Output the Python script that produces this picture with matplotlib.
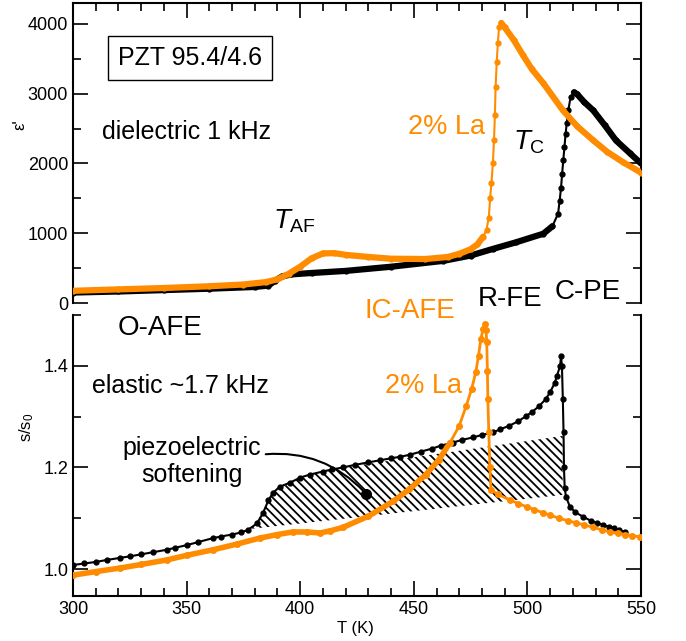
import matplotlib
matplotlib.use("Agg")
import matplotlib.pyplot as plt
import numpy as np

plt.rcParams["font.family"] = ["Liberation Sans", "DejaVu Sans"]
plt.rcParams["mathtext.fontset"] = "custom"
plt.rcParams["mathtext.rm"] = "Liberation Sans"
plt.rcParams["mathtext.it"] = "Liberation Sans:italic"
plt.rcParams["hatch.linewidth"] = 1.3
plt.rcParams["lines.solid_joinstyle"] = "round"
plt.rcParams["lines.solid_capstyle"] = "round"

ORANGE = "#ff8c00"

# dielectric permittivity, pure PZT 95.4/4.6
diel_T = np.array([300, 320, 340, 360, 380, 386, 389, 392, 396, 405, 420, 440, 463, 475,
                   485, 495, 507, 511, 513.5, 514.2, 514.8, 515.3, 515.8, 516.3, 516.8,
                   517.3, 518, 519, 520.5, 522, 525, 529, 534, 539, 545, 550])
diel_eps = np.array([150, 165, 185, 205, 230, 250, 320, 380, 410, 430, 460, 520, 604, 680,
                     777, 870, 993, 1100, 1280, 1468, 1650, 1856, 2050, 2230, 2420,
                     2575, 2760, 2950, 3020, 2990, 2880, 2760, 2550, 2330, 2150, 2000])

# dielectric permittivity, 2% La
diel_La_T = np.array([300, 320, 340, 360, 375, 385, 390, 395, 400, 405, 410, 415, 420, 430,
                      440, 455, 465, 470, 475, 478, 480.5, 482, 483, 483.6, 484.2, 484.8,
                      485.3, 485.7, 486, 486.5, 487, 487.5, 488.5, 490, 494, 498, 502, 507,
                      515.6, 522, 529, 535, 542, 550])
diel_La_eps = np.array([175, 195, 215, 240, 265, 300, 340, 420, 520, 640, 710, 715, 690, 660,
                        635, 630, 660, 705, 770, 840, 950, 1050, 1223, 1500, 1727, 2000,
                        2331, 2700, 3094, 3450, 3727, 3950, 4014, 3950, 3770, 3554, 3350, 3151,
                        2763, 2530, 2331, 2170, 2020, 1870])

# elastic compliance s/s0, pure
el_T = np.array([300, 305, 310, 315, 320.7, 325, 330, 335, 341.3, 345, 350, 355, 361.7, 365,
                 370, 374, 377, 381, 383.6, 386, 388, 391, 395.5, 400, 404.3, 410, 414,
                 418.8, 424, 430, 435, 440, 444, 448.3, 453, 458, 462, 467.3, 471, 476,
                 480, 484.9, 488, 492, 496, 499.4, 502, 505, 508, 510, 512, 513, 514.4,
                 514.8, 515.2, 515.6, 515.9, 516.1, 516.4, 517, 518.7, 521, 524.5, 528,
                 530.5, 533.3, 536, 538, 540.5, 543])
el_s = np.array([1.008, 1.011, 1.014, 1.018, 1.022, 1.025, 1.029, 1.033, 1.038, 1.042, 1.047,
                 1.053, 1.061, 1.064, 1.068, 1.072, 1.077, 1.090, 1.11, 1.135, 1.150, 1.162,
                 1.170, 1.180, 1.186, 1.192, 1.196, 1.200, 1.205, 1.210, 1.214, 1.218,
                 1.221, 1.225, 1.231, 1.237, 1.243, 1.249, 1.254, 1.259, 1.264, 1.269,
                 1.275, 1.282, 1.291, 1.301, 1.309, 1.32, 1.334, 1.348, 1.366, 1.38, 1.40,
                 1.419, 1.40, 1.334, 1.27, 1.20, 1.16, 1.142, 1.123, 1.112, 1.103, 1.095,
                 1.091, 1.087, 1.083, 1.080, 1.076, 1.073])

# elastic compliance s/s0, 2% La
el_La_T = np.array([300, 310, 320.7, 330, 341.3, 350, 361.7, 372, 382.3, 390, 396.8, 403,
                    408.7, 413, 418.8, 430, 440.8, 448, 455.3, 461, 466, 470, 473, 475.5,
                    477.3, 478.5, 479.5, 480.5, 481.3, 481.8, 482.1, 482.4, 482.6, 483,
                    483.5, 484, 487, 492.3, 496, 500, 503, 506.8, 510, 514, 518, 521.4, 525,
                    529, 533, 536.3, 540, 543, 546, 549.6])
el_La_s = np.array([0.988, 0.995, 1.002, 1.009, 1.018, 1.027, 1.038, 1.049, 1.061, 1.068,
                    1.073, 1.073, 1.071, 1.075, 1.082, 1.104, 1.133, 1.157, 1.186, 1.215,
                    1.249, 1.282, 1.32, 1.355, 1.388, 1.42, 1.453, 1.472, 1.483, 1.47,
                    1.447, 1.39, 1.334, 1.27, 1.20, 1.156, 1.147, 1.136, 1.129, 1.122,
                    1.117, 1.111, 1.106, 1.10, 1.095, 1.091, 1.087, 1.082, 1.077, 1.073,
                    1.070, 1.068, 1.066, 1.063])

# piezoelectric softening region (outline)
soft_T = [378, 383.6, 388, 395.5, 404.3, 418.8, 515.5, 515.5]
soft_s = [1.079, 1.11, 1.15, 1.17, 1.186, 1.200, 1.262, 1.146]


def style_axis(ax, top_ticks):
    ax.tick_params(which="both", direction="in", right=True, top=top_ticks,
                   labelsize=13, width=1.2)
    ax.tick_params(which="major", length=11)
    ax.tick_params(which="minor", length=5.5)
    for sp in ax.spines.values():
        sp.set_linewidth(1.5)
    ax.set_xlim(300, 550)
    ax.set_xticks(np.arange(300, 551, 50))
    ax.set_xticks(np.arange(300, 551, 10), minor=True)


fig = plt.figure(figsize=(6.86, 6.41), dpi=100)
ax1 = fig.add_axes([0.1064, 0.5273, 0.828, 0.468])
ax2 = fig.add_axes([0.1064, 0.0702, 0.828, 0.4384])

# ---- dielectric panel ----
style_axis(ax1, True)
ax1.tick_params(axis="x", which="both", bottom=False, labelbottom=False)
ax1.spines["bottom"].set_visible(False)
ax1.set_ylim(0, 4300)
ax1.set_yticks(np.arange(0, 4001, 1000))
ax1.set_yticks(np.arange(0, 4001, 500), minor=True)

steep = (diel_T > 511) & (diel_T < 519.5)
ax1.plot(diel_T, diel_eps, color="black", lw=1.5, marker="o", ms=3.5, zorder=3)
ax1.plot(np.where(steep, np.nan, diel_T), diel_eps, color="black", lw=4.5, zorder=3)
steep_La = (diel_La_T > 481) & (diel_La_T < 488)
ax1.plot(diel_La_T, diel_La_eps, color=ORANGE, lw=1.5, marker="o", ms=3.5, zorder=4)
ax1.plot(np.where(steep_La, np.nan, diel_La_T), diel_La_eps, color=ORANGE, lw=4.5,
         zorder=4)

ax1.text(351.5, 3510, "PZT 95.4/4.6", fontsize=18, ha="center", va="center",
         bbox=dict(boxstyle="square,pad=0.4", fc="white", ec="black", lw=1))
ax1.text(312.8, 2446, "dielectric 1 kHz", fontsize=18, ha="left", va="center")
ax1.text(388, 1165, r"$T_{\rm AF}$", fontsize=20, ha="left", va="center")
ax1.text(447.4, 2518, "2% La", fontsize=19.5, color=ORANGE, ha="left", va="center")
ax1.text(493.7, 2302, r"$T_{\rm C}$", fontsize=20, ha="left", va="center")

# ---- elastic panel ----
style_axis(ax2, False)
ax2.spines["top"].set_visible(False)
ax2.set_ylim(0.947, 1.5)
ax2.set_yticks([1.0, 1.2, 1.4])
ax2.set_yticks(np.arange(1.0, 1.51, 0.1), minor=True)
ax2.yaxis.set_major_formatter(matplotlib.ticker.FormatStrFormatter("%.1f"))

ax2.fill(soft_T, soft_s, facecolor="none", edgecolor="black", hatch="\\\\\\\\",
         linewidth=0, zorder=1)
ax2.plot(el_T, el_s, color="black", lw=1.5, marker="o", ms=3.5, zorder=3)
flat_La = (el_La_T < 470)
ax2.plot(el_La_T, el_La_s, color=ORANGE, lw=2, marker="o", ms=4, zorder=4)
ax2.plot(np.where(flat_La, el_La_T, np.nan), el_La_s, color=ORANGE, lw=4, zorder=4)

ax2.text(319.8, 1.475, "O-AFE", fontsize=20, ha="left", va="center")
ax2.text(308.4, 1.36, "elastic ~1.7 kHz", fontsize=18, ha="left", va="center")
ax2.text(352.4, 1.212, "piezoelectric\nsoftening", fontsize=18, ha="center",
         va="center", linespacing=1.15)
ax2.text(437.3, 1.36, "2% La", fontsize=19.5, color=ORANGE, ha="left", va="center")
ax2.text(428.5, 1.508, "IC-AFE", fontsize=20, color=ORANGE, ha="left", va="center",
         clip_on=False)
ax2.text(478.3, 1.532, "R-FE", fontsize=20, ha="left", va="center", clip_on=False)
ax2.text(512.1, 1.546, "C-PE", fontsize=20, ha="left", va="center", clip_on=False)

ax2.annotate("", xy=(429, 1.148), xytext=(383.6, 1.2255),
             arrowprops=dict(arrowstyle="-", color="black", lw=1.5,
                             connectionstyle="arc3,rad=-0.25"))
ax2.plot([429], [1.148], "o", color="black", ms=7, zorder=5)

fig.text(20 / 686, 1 - 125 / 641, "ε'", fontsize=12, rotation=90,
         ha="center", va="center")
fig.text(27 / 686, 1 - 427 / 641, r"$\mathrm{s/s_0}$", fontsize=12, rotation=90,
         ha="center", va="center")
fig.text(355 / 686, 1 - 628 / 641, "T (K)", fontsize=12, ha="center", va="center")

fig.savefig("out.png", dpi=100)
